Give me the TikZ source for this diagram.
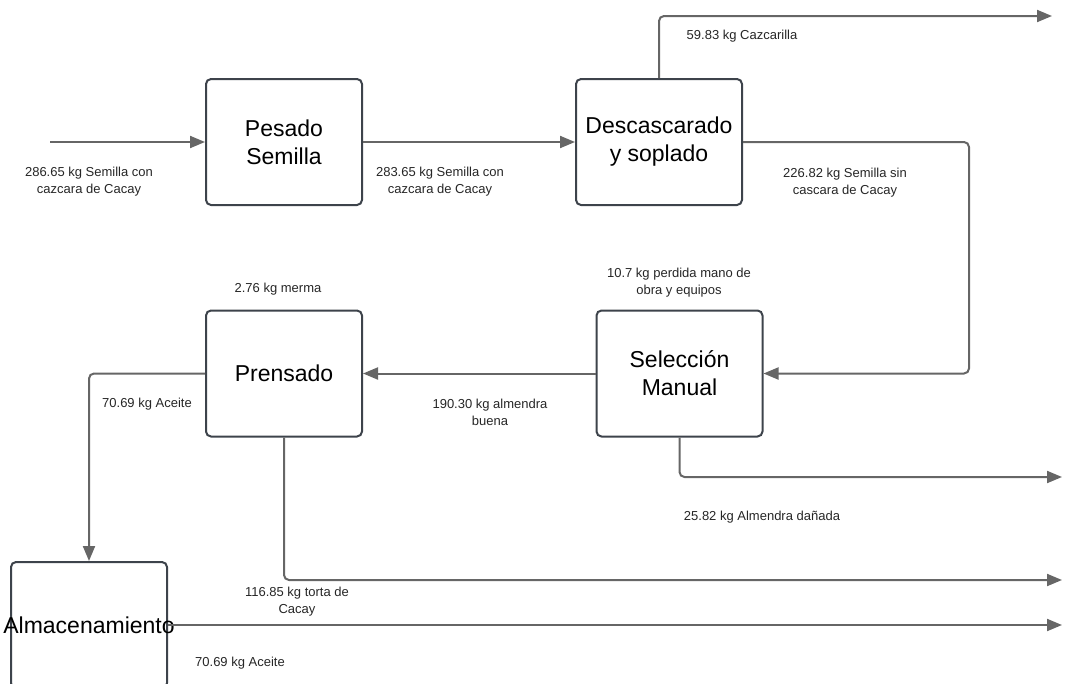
\documentclass[tikz,border=0pt]{standalone}
\usepackage{fontspec}
\setmainfont{Liberation Sans}
\usetikzlibrary{arrows.meta, positioning}
\definecolor{boxline}{HTML}{3D434B}
\definecolor{flowline}{HTML}{666666}
\tikzset{>={Triangle[length=15pt,width=12pt]}}

\begin{document}
\begin{tikzpicture}[x=1pt, y=-1pt,
	proc/.style={draw=boxline, line width=2pt, rounded corners=5pt, fill=white,
		minimum width=156pt, minimum height=126pt, align=center,
		font=\fontsize{23}{28}\selectfont, inner sep=0pt},
	wide/.style={proc, minimum width=166pt},
	flow/.style={->, draw=flowline, line width=2pt, rounded corners=5pt},
	lbl/.style={align=center, font=\fontsize{13}{17}\selectfont, text=black!85, inner sep=0pt}]

		\path[use as bounding box, clip] (0,0) rectangle (1068,683);

		\node[proc] (pesado) at (284,142) {Pesado\\Semilla};
		\node[wide] (descas) at (659,142) {Descascarado\\y soplado};
		\node[wide] (seleccion) at (679.5,373.5) {Selección\\Manual};
		\node[proc] (prensado) at (284,373.5) {Prensado};
		\node[proc] (almacen) at (89,625) {\makebox[0pt]{Almacenamiento}};

		\coordinate (entrada) at (50,142);
		\coordinate (cazout) at (1052,16);
		\coordinate (giro) at (969,142);
		\coordinate (danout) at (1062,477);
		\coordinate (tortaout) at (1062,580);
		\coordinate (aceiteout) at (1062,625);

		\draw[flow] (entrada) -- (pesado);
		\draw[flow] (pesado) -- (descas);
		\draw[flow] (descas.north) |- (cazout);
		\draw[flow] (descas.east) -- (giro) |- (seleccion.east);
		\draw[flow] (seleccion.west) -- (prensado.east);
		\draw[flow] (seleccion.south) |- (danout);
		\draw[flow] (prensado.west) -| (almacen.north);
		\draw[flow] (prensado.south) |- (tortaout);
		\draw[flow] (almacen.east) -- (aceiteout);

		\node[lbl] (l1) at (89,182) {286.65 kg Semilla con\\cazcara de Cacay};
		\node[lbl] (l2) at (440,182) {283.65 kg Semilla con\\cazcara de Cacay};
		\node[lbl] (l3) at (742,36) {59.83 kg Cazcarilla};
		\node[lbl] (l4) at (845,183) {226.82 kg Semilla sin\\cascara de Cacay};
		\node[lbl] (l5) at (679,283) {10.7 kg perdida mano de\\obra y equipos};
		\node[lbl] (l6) at (278,289) {2.76 kg merma};
		\node[lbl] (l7) at (490,412) {190.30 kg almendra\\buena};
		\node[lbl] (l8) at (147,404) {70.69 kg Aceite};
		\node[lbl] (l9) at (762,517) {25.82 kg Almendra dañada};
		\node[lbl] (l10) at (297,602) {116.85 kg torta de\\Cacay};
		\node[lbl] (l11) at (240,663) {70.69 kg Aceite};

\end{tikzpicture}
\end{document}
